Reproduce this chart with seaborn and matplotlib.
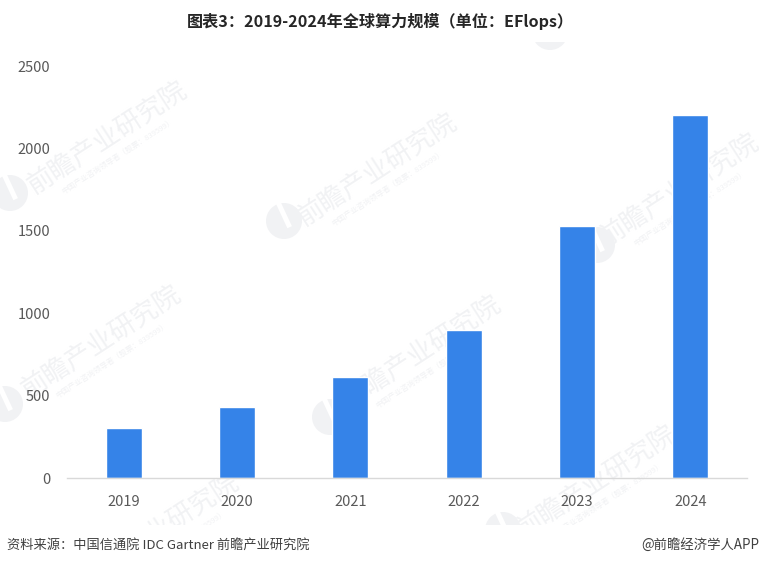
#!/usr/bin/env python3

import matplotlib
matplotlib.use("Agg")
import matplotlib.pyplot as plt
import matplotlib.patches as mpatches
from matplotlib.transforms import Affine2D, Bbox
import pandas as pd
import seaborn as sns

YEARS = ["2019", "2020", "2021", "2022", "2023", "2024"]
VALUES = [305, 430, 610, 900, 1532, 2200]
Y_TICKS = [0, 500, 1000, 1500, 2000, 2500]

TITLE = "图表3：2019-2024年全球算力规模（单位：EFlops）"
SOURCE = "资料来源：中国信通院 IDC Gartner 前瞻产业研究院"
CREDIT = "@前瞻经济学人APP"

W, H = 759, 566
BAR_COLOR = "#3583E8"
TEXT_GRAY = "#595959"
MARK_GRAY = "#F1F2F4"

# watermark: logo centre and centre of the big text, in image pixels
MARKS = [
    ((10, 193), (108, 138)),
    ((284, 221), (378, 170)),
    ((597, 245), (680, 190)),
    ((5, 404), (102, 342)),
    ((330, 417), (422, 352)),
    ((503, 530), (597, 482)),
    ((70, 590), (160, 530)),
]
TOP_LOGO = (550, 32)

sns.set_theme(style="white")
plt.rcParams["font.family"] = ["Noto Sans CJK SC", "DejaVu Sans"]

fig = plt.figure(figsize=(W / 100, H / 100), dpi=100, facecolor="white")
ax = fig.add_axes([67 / W, 1 - 478 / H, (747 - 67) / W, (478 - 66) / H])
ax.patch.set_visible(False)

# pixel coordinates of the image, y going down
px = Affine2D().scale(1 / W, -1 / H).translate(0, 1) + fig.transFigure
clip = Bbox([[0, H - 525], [W, H - 42]])


def draw_logo(x, y):
    circle = mpatches.Circle((x, y), 18, transform=px, color=MARK_GRAY, lw=0, zorder=-2)
    slit = mpatches.Rectangle((x, y - 20), 5, 28, angle=-25, rotation_point=(x, y),
                              transform=px, color="white", lw=0, zorder=-1.5)
    for patch in (circle, slit):
        fig.add_artist(patch)
        patch.set_clip_box(clip)


draw_logo(*TOP_LOGO)
for logo, centre in MARKS:
    draw_logo(*logo)
    big = fig.text(centre[0], centre[1], "前瞻产业研究院", transform=px, fontsize=19, color=MARK_GRAY,
                   rotation=33, ha="center", va="center", rotation_mode="anchor", zorder=-2)
    small = fig.text(centre[0] + 10, centre[1] + 18, "中国产业咨询领导者（股票：839599）", transform=px, fontsize=5.5,
                     color=MARK_GRAY, rotation=33, ha="center", va="center", rotation_mode="anchor", zorder=-2)
    for t in (big, small):
        t.set_clip_on(True)
        t.set_clip_box(clip)

df = pd.DataFrame({"year": YEARS, "value": VALUES})
sns.barplot(data=df, x="year", y="value", color=BAR_COLOR, saturation=1, width=0.32, ax=ax)

ax.set_xlim(-0.5, 5.5)
ax.set_ylim(0, 2500)
ax.set_yticks(Y_TICKS)
ax.set_xlabel("")
ax.set_ylabel("")
ax.tick_params(axis="both", length=0, labelcolor=TEXT_GRAY, labelsize=10.5)
ax.tick_params(axis="x", pad=12)
ax.tick_params(axis="y", pad=12)

for side in ("top", "left", "right"):
    ax.spines[side].set_visible(False)
ax.spines["bottom"].set_color("#D9D9D9")
ax.spines["bottom"].set_linewidth(1)

fig.text(380 / W, 1 - 21 / H, TITLE, fontsize=11.6, fontweight="bold", color="#262626", ha="center", va="center")
fig.text(7 / W, 1 - 545 / H, SOURCE, fontsize=9.5, color="#404040", ha="left", va="center")
fig.text(759 / W, 1 - 545 / H, CREDIT, fontsize=9.6, color="#404040", ha="right", va="center")

fig.savefig("out.png", dpi=100, facecolor="white")
